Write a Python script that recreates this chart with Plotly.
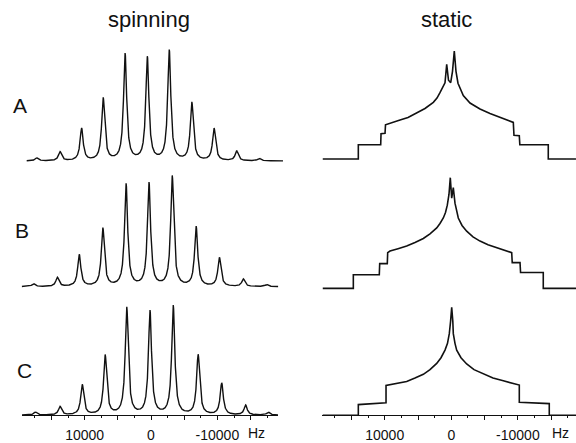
import numpy as np
import plotly.graph_objects as go

W, H = 576, 443

# ---------------- data ----------------
row_labels = ["A", "B", "C"]
col_titles = ["spinning", "static"]
tick_vals = [15000, 10000, 5000, 0, -5000, -10000, -15000]
tick_text = ["", "10000", "", "0", "", "-10000", ""]
minor_vals = [17500, 12500, 7500, 2500, -2500, -7500, -12500, -17500]

# spinning spectra: sideband positions (Hz) and heights (arb. units)
spin_A_hz = [17200, 13700, 10450, 7200, 3900, 550, -2750, -6150, -9500, -12900, -16300]
spin_A_int = [3, 9, 32.5, 63, 107.5, 104, 111, 58.5, 32.5, 10, 2.5]
spin_B_hz = [17700, 14100, 10800, 7250, 3750, 300, -3200, -6800, -10300, -13900, -17400]
spin_B_int = [3, 9, 32, 58.5, 103, 104, 111, 60, 29, 7.5, 2]
spin_C_hz = [17400, 13700, 10350, 6900, 3650, 150, -3350, -7100, -10650, -14250, -17650]
spin_C_int = [3, 8.5, 30.5, 60, 108, 104.5, 110, 60.5, 32, 10, 3]
spin_hwhm_hz = 280
spin_span_A = [18720, -19880]
spin_span_B = [19470, -19170]
spin_span_C = [19428, -19127]

# static spectra: points (Hz, intensity)
static_A_hz = [19300, 13960, 13960, 10600, 10550, 9950, 9880, 8900, 7700, 6500, 5195, 3950,
               2700, 2150, 1700, 1245, 945, 690, 420, 90, -180, -450, -705, -1005, -1800,
               -2810, -4310, -5810, -7310, -8360, -9310, -9410, -10210, -10290, -14560,
               -14560, -18720]
static_A_int = [0, 0, 14.5, 14.5, 25.5, 26, 34.5, 37, 39.5, 42, 46.5, 51,
                57.2, 61.5, 67, 72.5, 77, 95.5, 79.5, 77, 88.5, 109, 88.5, 76.5, 64,
                56.5, 50.5, 46, 42, 39.5, 37, 24, 23.5, 14.5, 14.5,
                0, 0]
static_B_hz = [19300, 14710, 14710, 10810, 10750, 9610, 9550, 9200, 8000, 6700, 5450, 4200,
               3200, 2190, 1700, 1200, 870, 600, 345, 150, -60, -300, -555, -780, -1050,
               -1610, -2310, -3260, -4310, -5510, -6820, -7910, -9070, -9150, -10320,
               -10400, -13810, -13810, -18720]
static_B_int = [0, 0, 13.7, 13.7, 25, 25, 36, 37.7, 40, 42.7, 46.3, 50.3,
                55, 61, 65.5, 71, 76.5, 84, 95, 111.7, 91, 101.7, 86, 78, 71,
                63.5, 57.7, 52, 47.7, 44, 41, 38.5, 36, 26, 26,
                16, 16, 0, 0]
static_C_hz = [19300, 13960, 13960, 9950, 9800, 9800, 8450, 6700, 5450, 4200, 3200, 2190,
               1545, 945, 570, 300, 105, -60, -225, -300, -555, -810, -1455, -2310, -3410,
               -4800, -6260, -7810, -8965, -10060, -10210, -10210, -14710, -14710, -18720]
static_C_int = [0, 0, 10.7, 12.3, 12.5, 30, 32, 34, 37.5, 41.3, 46, 52.3,
                58, 65.7, 72.5, 82.3, 95, 109, 95, 82.3, 72.5, 65.7, 58, 51.7, 46,
                41.7, 37.5, 34.7, 32.5, 30.7, 30.5, 13, 11.7, 0, 0]

# ---------------- layout geometry (pixels) ----------------
INK = "#111111"
FONT = "Arial, Liberation Sans, sans-serif"
row_base = [(162.5, 160.5), (289.3, 291.0), (419.0, 419.0)]
row_top = [40, 165, 295]
left_dom = {0: ([22, 283], [19428, -19880]), 1: ([21.7, 278.3], [19470, -19170]),
            2: ([22, 278], [19428, -19127])}
right_dom = ([322, 576], [19414, -18724])


def lorentz_sum(x, centers, heights, g):
    y = np.zeros_like(x)
    for c, h in zip(centers, heights):
        y += h * g * g / (g * g + (x - c) ** 2)
    return y


spins = [(spin_A_hz, spin_A_int, spin_span_A), (spin_B_hz, spin_B_int, spin_span_B),
         (spin_C_hz, spin_C_int, spin_span_C)]
statics = [(static_A_hz, static_A_int), (static_B_hz, static_B_int), (static_C_hz, static_C_int)]

fig = go.Figure()
layout = {}
for r in range(3):
    for c in range(2):
        k = r * 2 + c + 1
        xs = "" if k == 1 else str(k)
        if c == 0:
            cen, hts, span = spins[r]
            x = np.linspace(span[0], span[1], 4000)
            y = lorentz_sum(x, cen, hts, spin_hwhm_hz)
            lw = 1.4
        else:
            x, y = statics[r]
            lw = 1.6
        fig.add_trace(go.Scatter(x=x, y=y, mode="lines", line=dict(color=INK, width=lw),
                                 xaxis="x" + xs, yaxis="y" + xs, showlegend=False,
                                 hoverinfo="skip"))
        b = row_base[r][c]
        t = row_top[r]
        if c == 0:
            dpx, rng = left_dom[r]
        else:
            dpx, rng = right_dom
        xa = dict(domain=[dpx[0] / W, dpx[1] / W], range=rng, anchor="y" + xs,
                  showgrid=False, zeroline=False, fixedrange=True)
        if r == 2:
            xa.update(anchor="free", position=(H - 419) / H, visible=True, showline=True,
                      linecolor=INK, linewidth=1, ticks="outside", ticklen=4, tickwidth=1,
                      tickcolor=INK, tickmode="array", tickvals=tick_vals, ticktext=tick_text,
                      ticklabelstandoff=3,
                      tickfont=dict(family=FONT, size=14, color=INK),
                      minor=dict(tickmode="array", tickvals=minor_vals, ticks="outside",
                                 ticklen=2, tickcolor=INK, tickwidth=1, showgrid=False))
        else:
            xa.update(visible=False)
        ya = dict(domain=[(H - (b + 6)) / H, (H - t) / H], range=[-6, b - t], visible=False,
                  anchor="x" + xs, fixedrange=True)
        layout["xaxis" + xs] = xa
        layout["yaxis" + xs] = ya

ann = []
title_pos = [(148.5, 19.5), (446, 19.5)]
for (px, py), txt in zip(title_pos, col_titles):
    ann.append(dict(x=px / W, y=(H - py) / H, xref="paper", yref="paper", text=txt,
                    showarrow=False, xanchor="center", yanchor="middle",
                    font=dict(family=FONT, size=22, color=INK)))
label_pos = [(20, 106), (22, 233), (24, 373.5)]
for (px, py), txt in zip(label_pos, row_labels):
    ann.append(dict(x=px / W, y=(H - py) / H, xref="paper", yref="paper", text=txt,
                    showarrow=False, xanchor="center", yanchor="middle",
                    font=dict(family=FONT, size=21, color=INK)))
for px in (256, 560):
    ann.append(dict(x=px / W, y=(H - 436.5) / H, xref="paper", yref="paper", text="Hz",
                    showarrow=False, xanchor="center", yanchor="middle",
                    font=dict(family=FONT, size=14, color=INK)))

fig.update_layout(width=W, height=H, margin=dict(l=0, r=0, t=0, b=0),
                  paper_bgcolor="white", plot_bgcolor="white", annotations=ann,
                  showlegend=False, **layout)
fig.write_html("out.html", config={"displayModeBar": False, "staticPlot": True},
               post_script="document.body.style.margin='0px';")
